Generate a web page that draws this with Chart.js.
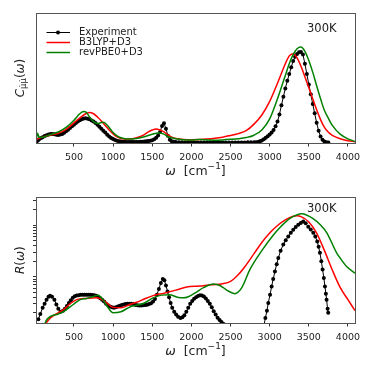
<!DOCTYPE html>
<html>
<head>
<meta charset="utf-8">
<script src="https://cdn.jsdelivr.net/npm/chart.js@4"></script>
<style>
  html, body { margin: 0; padding: 0; background: #fff; }
  canvas { position: absolute; left: 0; display: block; }
  #top { top: 0; }
  #bot { top: 187px; }
</style>
</head>
<body>
<canvas id="top" width="374" height="187"></canvas>
<canvas id="bot" width="374" height="187"></canvas>
<script>
// x range and ticks (cm^-1)
const X_MIN = 15, X_MAX = 4090;
const xTicks = [500, 1000, 1500, 2000, 2500, 3000, 3500, 4000];
const labels = ['Experiment', 'B3LYP+D3', 'revPBE0+D3'];
const tempLabel = '300K';

// top panel: C(w), normalised
const expTop = [[20,0.01],[40,0.02],[60,0.03],[80,0.038],[100,0.045],[125,0.053],[150,0.06],[175,0.066],[200,0.07],[225,0.07],[250,0.068],[275,0.064],[300,0.062],[325,0.065],[350,0.07],[375,0.079],[400,0.09],[425,0.102],[450,0.115],[475,0.128],[500,0.14],[525,0.153],[550,0.165],[575,0.175],[600,0.183],[625,0.188],[650,0.19],[675,0.187],[700,0.182],[725,0.174],[750,0.165],[775,0.153],[800,0.14],[825,0.125],[850,0.11],[875,0.095],[900,0.08],[925,0.064],[950,0.05],[975,0.039],[1000,0.03],[1025,0.023],[1050,0.018],[1075,0.014],[1100,0.012],[1125,0.01],[1150,0.009],[1175,0.008],[1200,0.008],[1225,0.008],[1250,0.008],[1275,0.008],[1300,0.008],[1325,0.008],[1350,0.009],[1375,0.01],[1400,0.011],[1425,0.013],[1450,0.015],[1475,0.018],[1500,0.022],[1525,0.029],[1550,0.04],[1575,0.058],[1600,0.085],[1625,0.13],[1650,0.152],[1675,0.11],[1700,0.055],[1725,0.025],[1750,0.013],[1775,0.009],[1800,0.007],[1840,0.005],[1880,0.005],[1920,0.004],[1960,0.004],[2000,0.004],[2040,0.004],[2080,0.004],[2120,0.004],[2160,0.004],[2200,0.004],[2240,0.004],[2280,0.004],[2320,0.004],[2360,0.004],[2400,0.004],[2440,0.004],[2480,0.004],[2520,0.004],[2560,0.004],[2600,0.004],[2640,0.004],[2680,0.004],[2720,0.005],[2760,0.005],[2800,0.005],[2825,0.006],[2850,0.008],[2875,0.013],[2900,0.02],[2925,0.029],[2950,0.04],[2975,0.051],[3000,0.065],[3025,0.08],[3050,0.1],[3075,0.128],[3100,0.165],[3125,0.22],[3150,0.29],[3175,0.355],[3200,0.42],[3225,0.478],[3250,0.53],[3275,0.583],[3300,0.63],[3325,0.663],[3350,0.685],[3375,0.698],[3400,0.7],[3425,0.68],[3450,0.61],[3475,0.53],[3500,0.45],[3525,0.375],[3550,0.3],[3575,0.228],[3600,0.155],[3625,0.095],[3650,0.05],[3675,0.025],[3700,0.012],[3725,0.006],[3750,0.003]];
const b3lypTop = [[20,0.03],[100,0.045],[200,0.06],[300,0.075],[400,0.105],[500,0.155],[600,0.205],[650,0.225],[700,0.235],[750,0.225],[800,0.2],[850,0.17],[900,0.135],[950,0.1],[1000,0.07],[1050,0.048],[1100,0.035],[1200,0.03],[1300,0.04],[1400,0.065],[1450,0.085],[1500,0.1],[1550,0.108],[1600,0.1],[1650,0.085],[1700,0.062],[1750,0.045],[1800,0.035],[1900,0.027],[2000,0.025],[2100,0.026],[2200,0.03],[2300,0.036],[2400,0.045],[2500,0.058],[2600,0.072],[2700,0.095],[2800,0.145],[2900,0.215],[3000,0.32],[3100,0.46],[3200,0.61],[3250,0.67],[3300,0.687],[3350,0.655],[3400,0.59],[3450,0.51],[3500,0.425],[3550,0.34],[3600,0.255],[3650,0.18],[3700,0.12],[3750,0.082],[3800,0.058],[3900,0.033],[4000,0.018],[4090,0.01]];
const revpbeTop = [[20,0.03],[35,0.075],[55,0.045],[100,0.045],[200,0.065],[300,0.085],[400,0.12],[500,0.175],[550,0.21],[600,0.238],[630,0.243],[660,0.235],[700,0.2],[750,0.165],[800,0.15],[850,0.158],[880,0.16],[920,0.14],[950,0.12],[1000,0.08],[1050,0.055],[1100,0.04],[1200,0.03],[1300,0.035],[1400,0.048],[1500,0.068],[1580,0.077],[1650,0.068],[1700,0.05],[1800,0.032],[1900,0.025],[2000,0.023],[2100,0.026],[2200,0.023],[2300,0.022],[2400,0.024],[2500,0.028],[2600,0.033],[2700,0.042],[2800,0.06],[2900,0.1],[3000,0.185],[3100,0.34],[3200,0.52],[3250,0.61],[3300,0.68],[3350,0.725],[3400,0.738],[3450,0.705],[3500,0.635],[3550,0.545],[3600,0.44],[3650,0.34],[3700,0.25],[3750,0.19],[3800,0.135],[3900,0.068],[4000,0.032],[4090,0.012]];

// bottom panel: R(w), log axis
const R_MIN = 0.127, R_MAX = 34.7;
const expBot = [[45,0.15],[70,0.19],[100,0.25],[125,0.3],[150,0.36],[175,0.41],[195,0.43],[220,0.41],[250,0.36],[275,0.29],[300,0.24],[330,0.21],[360,0.22],[385,0.24],[410,0.27],[435,0.31],[460,0.35],[485,0.39],[510,0.42],[535,0.435],[560,0.44],[585,0.45],[610,0.45],[635,0.45],[660,0.45],[685,0.45],[710,0.45],[735,0.445],[760,0.44],[785,0.43],[810,0.41],[835,0.385],[860,0.36],[885,0.33],[910,0.3],[935,0.28],[960,0.265],[985,0.255],[1010,0.25],[1035,0.255],[1060,0.265],[1085,0.275],[1110,0.283],[1135,0.29],[1160,0.295],[1185,0.3],[1210,0.3],[1235,0.3],[1260,0.295],[1285,0.285],[1310,0.28],[1335,0.278],[1360,0.278],[1385,0.28],[1410,0.282],[1435,0.287],[1460,0.295],[1485,0.305],[1510,0.33],[1535,0.37],[1560,0.45],[1585,0.58],[1610,0.76],[1635,0.9],[1655,0.85],[1675,0.68],[1695,0.52],[1715,0.4],[1735,0.31],[1755,0.25],[1780,0.21],[1805,0.185],[1830,0.168],[1860,0.158],[1885,0.165],[1910,0.18],[1935,0.21],[1960,0.25],[1985,0.3],[2010,0.34],[2035,0.375],[2060,0.4],[2085,0.425],[2110,0.44],[2135,0.435],[2160,0.415],[2185,0.38],[2210,0.34],[2235,0.3],[2260,0.255],[2285,0.215],[2310,0.185],[2335,0.16],[2360,0.145],[2385,0.133],[2410,0.122],[2430,0.1],[2700,null],[2920,0.1],[2945,0.158],[2965,0.22],[2982,0.31],[3005,0.45],[3025,0.65],[3045,0.9],[3067,1.26],[3090,1.75],[3110,2.3],[3140,3.2],[3174,4.2],[3205,5.1],[3238,6.0],[3270,7.1],[3301,8.1],[3333,9.2],[3365,10.2],[3397,11.0],[3429,11.7],[3460,10.8],[3493,9.3],[3525,8.2],[3557,7.1],[3583,6.0],[3608,4.8],[3625,3.8],[3642,2.9],[3660,2.0],[3676,1.38],[3692,0.95],[3706,0.65],[3718,0.47],[3727,0.36],[3740,0.24],[3748,0.2]];
const b3lypBot = [[140,0.125],[200,0.16],[300,0.2],[365,0.23],[450,0.3],[535,0.36],[650,0.38],[790,0.39],[900,0.33],[1000,0.255],[1100,0.25],[1215,0.29],[1300,0.32],[1400,0.37],[1510,0.43],[1650,0.48],[1800,0.55],[1940,0.63],[2100,0.66],[2250,0.7],[2400,0.73],[2500,0.81],[2600,1.1],[2700,1.7],[2800,2.8],[2900,4.6],[3000,7.0],[3100,9.8],[3200,12.6],[3300,14.8],[3350,15.1],[3400,14.6],[3500,11.5],[3600,7.0],[3700,3.2],[3800,1.35],[3900,0.62],[4000,0.36],[4090,0.22]];
const revpbeBot = [[130,0.125],[150,0.145],[200,0.17],[300,0.19],[365,0.21],[490,0.29],[580,0.36],[660,0.38],[740,0.41],[810,0.44],[870,0.36],[930,0.26],[1000,0.2],[1100,0.21],[1215,0.26],[1300,0.28],[1400,0.31],[1510,0.39],[1620,0.44],[1720,0.45],[1820,0.4],[1900,0.39],[1960,0.41],[2060,0.5],[2160,0.62],[2280,0.72],[2370,0.67],[2460,0.54],[2556,0.47],[2640,0.6],[2750,1.4],[2900,3.2],[3050,6.5],[3150,9.6],[3260,13.5],[3410,16.6],[3550,13.5],[3650,10.0],[3730,7.1],[3855,2.9],[3900,2.3],[3983,1.58],[4090,1.17]];

const FONT = 'DejaVu Sans';
const TXT = '#222';

function pts(arr) {
  return arr.map(p => ({ x: p[0], y: p[1] }));
}

function makeDatasets(exp, b3, rev) {
  return [
    { label: labels[0], data: pts(exp), borderColor: '#000', borderWidth: 1,
      pointRadius: 2, pointBackgroundColor: '#000', pointBorderWidth: 0, order: 3 },
    { label: labels[1], data: pts(b3), borderColor: '#ff0000', borderWidth: 1.5,
      pointRadius: 0, cubicInterpolationMode: 'monotone', order: 2 },
    { label: labels[2], data: pts(rev), borderColor: '#008000', borderWidth: 1.5,
      pointRadius: 0, cubicInterpolationMode: 'monotone', order: 1 }
  ];
}

function xScale(h) {
  return {
    type: 'linear', min: X_MIN, max: X_MAX,
    afterBuildTicks: s => { s.ticks = xTicks.map(v => ({ value: v })); },
    afterFit: s => { s.height = h; },
    ticks: { font: { family: FONT, size: 9.5 }, color: TXT, padding: 5, maxRotation: 0,
             autoSkip: false, callback: v => String(v) },
    grid: { drawOnChartArea: false, drawTicks: true, tickLength: 3.5, color: '#333' },
    border: { display: false }
  };
}

// draws text made of several font runs
function drawParts(ctx, parts, x, y, align) {
  let total = 0;
  parts.forEach(p => { ctx.font = p.font; p.w = ctx.measureText(p.t).width; total += p.w; });
  let cx = align === 'center' ? x - total / 2 : x;
  ctx.textAlign = 'left';
  ctx.textBaseline = 'middle';
  parts.forEach(p => { ctx.font = p.font; ctx.fillText(p.t, cx, y + (p.dy || 0)); cx += p.w; });
}

const f = (s, it) => (it ? 'italic ' : '') + s + 'px ' + FONT;
const xTitle = [
  { t: 'ω', font: f(12.5, true) }, { t: '  [cm', font: f(12.5) },
  { t: '−1', font: f(9), dy: -5 }, { t: ']', font: f(12.5) }
];

function decor(cfg) {
  return {
    id: 'decor',
    afterDraw(chart) {
      const { ctx, chartArea: a } = chart;
      ctx.save();
      ctx.strokeStyle = '#555';
      ctx.lineWidth = 1;
      ctx.strokeRect(Math.round(a.left) + 0.5, Math.round(a.top) + 0.5,
        Math.round(a.right - a.left), Math.round(a.bottom - a.top));
      ctx.fillStyle = TXT;
      drawParts(ctx, xTitle, (a.left + a.right) / 2, a.bottom + 29, 'center');
      ctx.save();
      ctx.translate(a.left - 15, (a.top + a.bottom) / 2);
      ctx.rotate(-Math.PI / 2);
      drawParts(ctx, cfg.yTitle, 0, 0, 'center');
      ctx.restore();
      ctx.font = f(11.5);
      ctx.textAlign = 'left';
      ctx.textBaseline = 'middle';
      ctx.fillText(tempLabel, a.right - 48, a.top + cfg.tagDy);
      if (cfg.legend) {
        chart.data.datasets.forEach((ds, i) => {
          const y = a.top + 19.5 + i * 10;
          ctx.strokeStyle = ds.borderColor;
          ctx.lineWidth = ds.borderWidth;
          ctx.beginPath();
          ctx.moveTo(a.left + 10.5, y);
          ctx.lineTo(a.left + 34, y);
          ctx.stroke();
          if (ds.pointRadius) {
            ctx.fillStyle = ds.pointBackgroundColor;
            ctx.beginPath();
            ctx.arc(a.left + 22, y, ds.pointRadius, 0, Math.PI * 2);
            ctx.fill();
          }
          ctx.fillStyle = TXT;
          ctx.font = f(10);
          ctx.fillText(ds.label, a.left + 43, y);
        });
      }
      ctx.restore();
    }
  };
}

const common = {
  responsive: false,
  animation: false,
  devicePixelRatio: 1,
  plugins: { legend: { display: false }, tooltip: { enabled: false } }
};

new Chart(document.getElementById('top'), {
  type: 'line',
  data: { datasets: makeDatasets(expTop, b3lypTop, revpbeTop) },
  options: {
    ...common,
    layout: { padding: { top: 13, right: 19, left: 0, bottom: 0 } },
    scales: {
      x: xScale(44),
      y: {
        type: 'linear', min: 0, max: 1,
        afterFit: s => { s.width = 36; },
        ticks: { display: false },
        grid: { display: false },
        border: { display: false }
      }
    }
  },
  plugins: [decor({
    legend: true, tagDy: 15.7,
    yTitle: [{ t: 'C', font: f(12, true) }, { t: 'μ\u0307μ\u0307', font: f(8.5), dy: 3 },
             { t: '(', font: f(12) }, { t: 'ω', font: f(12, true) }, { t: ')', font: f(12) }]
  })]
});

new Chart(document.getElementById('bot'), {
  type: 'line',
  data: { datasets: makeDatasets(expBot, b3lypBot, revpbeBot) },
  options: {
    ...common,
    layout: { padding: { top: 10, right: 19, left: 0, bottom: 0 } },
    scales: {
      x: xScale(51),
      y: {
        type: 'logarithmic', min: R_MIN, max: R_MAX,
        afterBuildTicks: s => {
          const t = [];
          [0.1, 1, 10].forEach(d => {
            for (let k = 1; k <= 9; k++) {
              const v = k * d;
              if (v >= R_MIN && v <= R_MAX) t.push({ value: v });
            }
          });
          s.ticks = t;
        },
        afterFit: s => { s.width = 36; },
        ticks: { callback: () => '', autoSkip: false },
        grid: { drawOnChartArea: false, drawTicks: true, tickLength: 3, color: '#333' },
        border: { display: false }
      }
    }
  },
  plugins: [decor({
    legend: false, tagDy: 12.3,
    yTitle: [{ t: 'R', font: f(12, true) }, { t: '(', font: f(12) },
             { t: 'ω', font: f(12, true) }, { t: ')', font: f(12) }]
  })]
});
</script>
</body>
</html>
